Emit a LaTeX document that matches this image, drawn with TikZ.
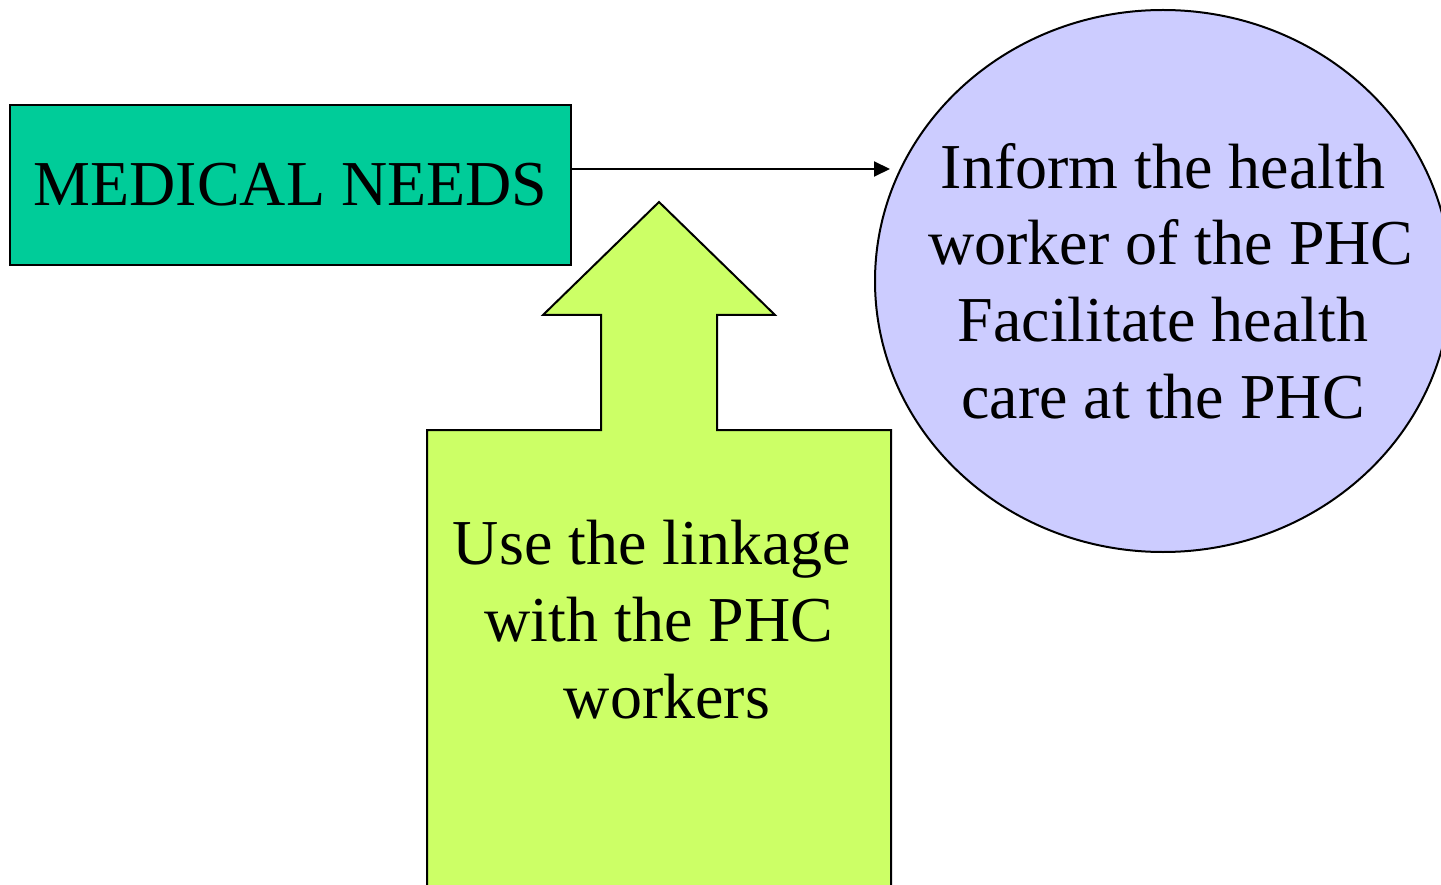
\documentclass[tikz,border=0pt]{standalone}
\usepackage{fontspec}
\setmainfont{Liberation Serif}
\usetikzlibrary{arrows.meta,shapes.geometric}
\definecolor{medgreen}{HTML}{00CC99}
\definecolor{limefill}{HTML}{CCFF66}
\definecolor{lavender}{HTML}{CCCCFF}
\begin{document}
\begin{tikzpicture}[x=1pt,y=-1pt,line join=miter,
  bigtext/.style={font=\fontsize{64}{76.7}\selectfont,align=center,inner sep=0pt},
  box/.style={draw=black,line width=2pt},
  link/.style={draw=black,line width=2pt,-{Triangle[length=16pt,width=15pt]}}]
\useasboundingbox (0,0) rectangle (1441,885);
\clip (0,0) rectangle (1441,885);
% medical needs box
\node[box,fill=medgreen,minimum width=561pt,minimum height=160pt,inner sep=0pt,
      font=\fontsize{64}{76.7}\selectfont] (med) at (290.5,185) {MEDICAL NEEDS};
% ellipse
\node[box,fill=lavender,ellipse,minimum width=576pt,minimum height=542pt,inner sep=0pt] (inform) at (1163,281) {};
\node[bigtext] (informtxt) at (inform.center) {Inform the health\\\hspace*{16pt}worker of the PHC\\Facilitate health\hspace*{14pt}\\care at the PHC};
% block arrow
\draw[box,fill=limefill] (659,202) -- (775,315) -- (717,315) -- (717,430) -- (891,430)
  -- (891,900) -- (427,900) -- (427,430) -- (601,430) -- (601,315) -- (543,315) -- cycle;
\node[bigtext] (linktxt) at (659,619.5) {Use the linkage\hspace*{14pt}\\with the PHC\\\hspace*{16pt}workers};
% connector
\coordinate (tipend) at (890,169);
\draw[link] (med.east |- tipend) -- (tipend);
\end{tikzpicture}
\end{document}
